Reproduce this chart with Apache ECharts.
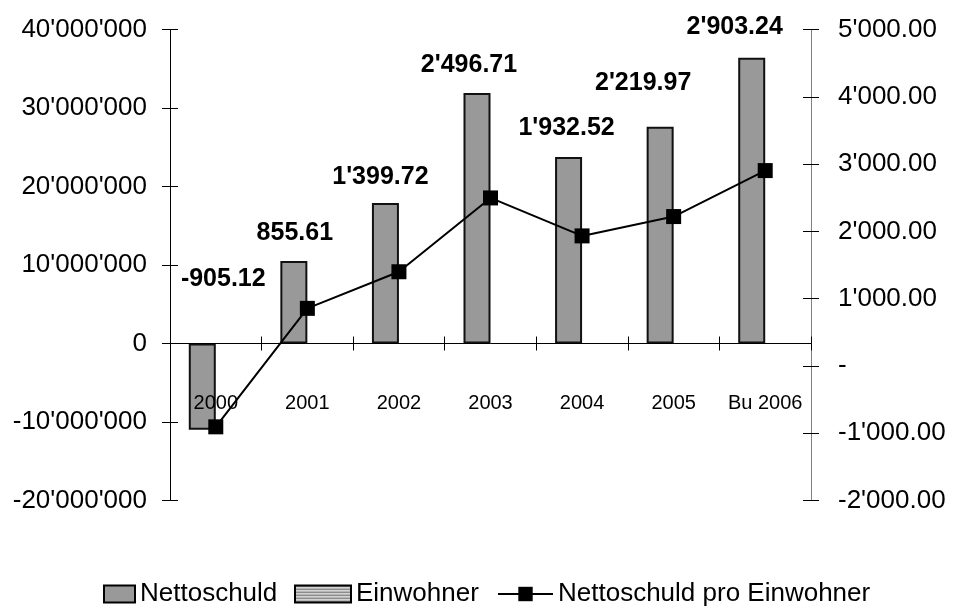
<!DOCTYPE html>
<html>
<head>
<meta charset="utf-8">
<title>Nettoschuld</title>
<script src="https://cdn.jsdelivr.net/npm/echarts@6/dist/echarts.min.js"></script>
<style>
  html, body { margin: 0; padding: 0; background: #fff; }
  #chart { width: 953px; height: 609px; }
</style>
</head>
<body>
<div id="chart"></div>
<script>
// values
const categories = ['2000', '2001', '2002', '2003', '2004', '2005', 'Bu 2006'];
const nettoschuld = [-11000000, 10500000, 17900000, 31900000, 23750000, 27600000, 36400000];
const einwohner = [null, null, null, null, null, null, null]; // too small to show on the left scale
const proEinwohner = [-905.12, 855.61, 1399.72, 2496.71, 1932.52, 2219.97, 2903.24];

// where the bold labels sit relative to the bar top (they were moved by hand in the original)
const labelShift = [[21, -47], [1, -10], [-5, -8], [-8, -10], [-2, -11], [-17, -26], [-17, -13]];

const FONT = "'Liberation Sans', Arial, sans-serif";

function apos(n, dec) {
  const s = Math.abs(n).toFixed(dec);
  const parts = s.split('.');
  const head = parts[0].replace(/\B(?=(\d{3})+(?!\d))/g, "'");
  return (n < 0 ? '-' : '') + head + (parts[1] ? '.' + parts[1] : '');
}

// striped fill for the Einwohner legend box
const pc = document.createElement('canvas');
pc.width = 4; pc.height = 3;
const pctx = pc.getContext('2d');
pctx.fillStyle = '#fff'; pctx.fillRect(0, 0, 4, 3);
pctx.fillStyle = '#707070'; pctx.fillRect(0, 0, 4, 1);
pctx.fillStyle = '#a8a8a8'; pctx.fillRect(0, 1, 4, 1);

const chart = echarts.init(document.getElementById('chart'));

const legendText = { color: '#000', fontSize: 26, fontFamily: FONT };

const option = {
  animation: false,
  textStyle: { fontFamily: FONT },
  grid: { left: 170, right: 142, top: 29.5, bottom: 108.5 },
  legend: [
    { data: ['Nettoschuld'], left: 103, top: 581, padding: 0, icon: 'rect', itemWidth: 31, itemHeight: 17,
      itemStyle: { borderColor: '#000', borderWidth: 2 }, textStyle: legendText },
    { data: ['Einwohner'], left: 294, top: 581, padding: 0, icon: 'rect', itemWidth: 56, itemHeight: 17,
      itemStyle: { borderColor: '#000', borderWidth: 2 }, textStyle: legendText },
    { data: ['Nettoschuld pro Einwohner'], left: 497, top: 581, padding: 0, itemWidth: 55, itemHeight: 18, textStyle: legendText }
  ],
  xAxis: [
    {
      type: 'category',
      data: categories,
      z: 3,
      axisLine: { onZero: true, onZeroAxisIndex: 0, lineStyle: { color: '#000', width: 1 } },
      axisTick: { show: true, length: 7, lineStyle: { color: '#000' } },
      axisLabel: { color: '#000', fontSize: 20, margin: -107, interval: 0 }
    },
    {
      type: 'category',
      data: categories,
      position: 'bottom',
      axisLine: { show: false, onZero: true, onZeroAxisIndex: 0 },
      axisTick: { show: true, inside: true, length: 7, lineStyle: { color: '#000' } },
      axisLabel: { show: false }
    }
  ],
  yAxis: [
    {
      type: 'value', position: 'left',
      min: -20000000, max: 40000000, interval: 10000000,
      axisLine: { show: true, lineStyle: { color: '#000' } },
      axisTick: { show: true, length: 8, lineStyle: { color: '#000' } },
      splitLine: { show: false },
      axisLabel: { color: '#000', fontSize: 26, margin: 23, formatter: v => apos(v, 0) }
    },
    {
      type: 'value', position: 'right',
      min: -2000, max: 5000, interval: 1000,
      axisLine: { show: true, lineStyle: { color: '#808080' } },
      axisTick: { show: true, length: 8, lineStyle: { color: '#000' } },
      splitLine: { show: false },
      axisLabel: { color: '#000', fontSize: 26, margin: 27, formatter: v => (v === 0 ? '-' : apos(v, 2)) }
    },
    {
      type: 'value', position: 'left',
      min: -20000000, max: 40000000, interval: 10000000,
      axisLine: { show: false },
      axisTick: { show: true, inside: true, length: 8, lineStyle: { color: '#000' } },
      splitLine: { show: false },
      axisLabel: { show: false }
    },
    {
      type: 'value', position: 'right',
      min: -2000, max: 5000, interval: 1000,
      axisLine: { show: false },
      axisTick: { show: true, inside: true, length: 8, lineStyle: { color: '#000' } },
      splitLine: { show: false },
      axisLabel: { show: false }
    }
  ],
  series: [
    {
      name: 'Nettoschuld',
      type: 'bar',
      yAxisIndex: 0,
      barWidth: 27,
      barGap: '0%',
      itemStyle: { color: '#999999', borderColor: '#111', borderWidth: 2 },
      label: {
        show: true,
        position: 'top',
        distance: 5,
        color: '#000',
        fontSize: 25,
        fontWeight: 'bold',
        formatter: p => apos(proEinwohner[p.dataIndex], 2)
      },
      data: nettoschuld.map((v, i) => ({ value: v, label: { offset: labelShift[i] } }))
    },
    {
      name: 'Einwohner',
      type: 'bar',
      yAxisIndex: 0,
      barWidth: 27,
      itemStyle: { color: { image: pc, repeat: 'repeat' }, borderColor: '#111', borderWidth: 2 },
      data: einwohner
    },
    {
      name: 'Nettoschuld pro Einwohner',
      type: 'line',
      yAxisIndex: 1,
      symbol: 'rect',
      symbolSize: 15,
      itemStyle: { color: '#000' },
      lineStyle: { color: '#000', width: 2 },
      z: 5,
      data: proEinwohner
    }
  ]
};

chart.setOption(option);
</script>
</body>
</html>
